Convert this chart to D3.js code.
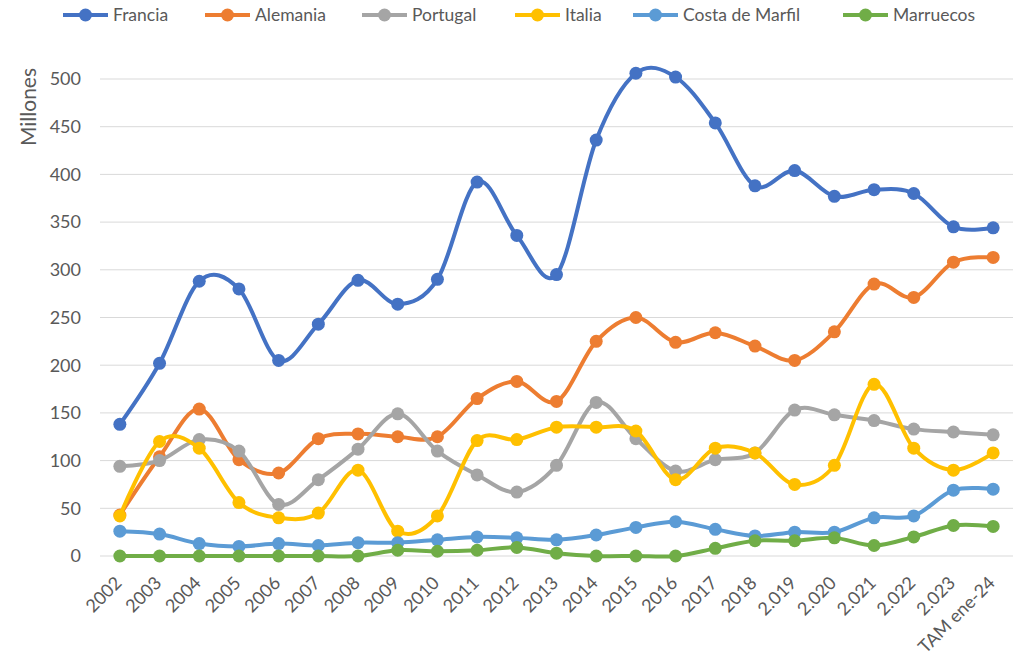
<!DOCTYPE html>
<html>
<head>
<meta charset="utf-8">
<script src="https://cdn.jsdelivr.net/npm/d3@7"></script>
<style>
  body { margin: 0; background: #fff; }
  text { font-family: Lato, "Liberation Sans", sans-serif; fill: #595959; }
</style>
</head>
<body>
<div id="chart"></div>
<script>
const categories = ['2002', '2003', '2004', '2005', '2006', '2007', '2008', '2009', '2010', '2011', '2012', '2013',
  '2014', '2015', '2016', '2017', '2018', '2.019', '2.020', '2.021', '2.022', '2.023', 'TAM ene-24'];

const francia = [138, 202, 288, 280, 205, 243, 289, 264, 290, 392, 336, 295, 436, 506, 502, 454, 388, 404, 377, 384, 380, 345, 344];
const alemania = [43, 104, 154, 101, 87, 123, 128, 125, 125, 165, 183, 162, 225, 250, 224, 234, 220, 205, 235, 285, 271, 308, 313];
const portugal = [94, 100, 122, 110, 54, 80, 112, 149, 110, 85, 67, 95, 161, 123, 89, 101, 108, 153, 148, 142, 133, 130, 127];
const italia = [42, 120, 113, 56, 40, 45, 90, 26, 42, 121, 122, 135, 135, 131, 80, 113, 108, 75, 95, 180, 113, 90, 108];
const costaMarfil = [26, 23, 13, 10, 13, 11, 14, 14, 17, 20, 19, 17, 22, 30, 36, 28, 21, 25, 25, 40, 42, 69, 70];
const marruecos = [0, 0, 0, 0, 0, 0, 0, 6, 5, 6, 9, 3, 0, 0, 0, 8, 16, 16, 19, 11, 20, 32, 31];

const yTicks = [0, 50, 100, 150, 200, 250, 300, 350, 400, 450, 500];

const series = [
  {name: 'Francia', values: francia, color: '#4472C4'},
  {name: 'Alemania', values: alemania, color: '#ED7D31'},
  {name: 'Portugal', values: portugal, color: '#A5A5A5'},
  {name: 'Italia', values: italia, color: '#FFC000'},
  {name: 'Costa de Marfil', values: costaMarfil, color: '#5B9BD5'},
  {name: 'Marruecos', values: marruecos, color: '#70AD47'}
];

const width = 1020;
const height = 658;
const margin = {left: 100, right: 7, top: 79, bottom: 102};

const svg = d3.select('#chart').append('svg')
  .attr('width', width)
  .attr('height', height);

const x = d3.scalePoint()
  .domain(categories)
  .range([margin.left, width - margin.right])
  .padding(0.5);

const y = d3.scaleLinear()
  .domain([0, 500])
  .range([height - margin.bottom, margin.top]);

// gridlines
svg.append('g')
  .selectAll('line')
  .data(yTicks)
  .join('line')
  .attr('x1', margin.left)
  .attr('x2', width - margin.right)
  .attr('y1', d => y(d))
  .attr('y2', d => y(d))
  .attr('stroke', '#D9D9D9')
  .attr('stroke-width', 1);

// y tick labels
svg.append('g')
  .selectAll('text')
  .data(yTicks)
  .join('text')
  .attr('x', 81)
  .attr('y', d => y(d))
  .attr('dy', '0.35em')
  .attr('text-anchor', 'end')
  .style('font-size', '18px')
  .text(d => d);

// y axis title
svg.append('text')
  .attr('transform', `translate(36, 107) rotate(-90)`)
  .attr('text-anchor', 'middle')
  .style('font-size', '21px')
  .text('Millones');

// x tick labels
svg.append('g')
  .selectAll('text')
  .data(categories)
  .join('text')
  .attr('transform', d => `translate(${x(d) + 3}, ${y(0) + 28}) rotate(-45)`)
  .attr('text-anchor', 'end')
  .style('font-size', '18px')
  .text(d => d);

const line = d3.line()
  .x((d, i) => x(categories[i]))
  .y(d => y(d))
  .curve(d3.curveCatmullRom.alpha(0));

const g = svg.append('g');
series.forEach(s => {
  const sg = g.append('g');
  sg.append('path')
    .datum(s.values)
    .attr('d', line)
    .attr('fill', 'none')
    .attr('stroke', s.color)
    .attr('stroke-width', 4)
    .attr('stroke-linejoin', 'round');
  sg.selectAll('circle')
    .data(s.values)
    .join('circle')
    .attr('cx', (d, i) => x(categories[i]))
    .attr('cy', d => y(d))
    .attr('r', 6.5)
    .attr('fill', s.color);
});

// legend
const legendPos = [63, 205, 362, 515, 633, 843];
const legend = svg.append('g');
series.forEach((s, i) => {
  const lg = legend.append('g').attr('transform', `translate(${legendPos[i]}, 15)`);
  lg.append('line')
    .attr('x1', 0).attr('x2', 45)
    .attr('stroke', s.color)
    .attr('stroke-width', 4);
  lg.append('circle')
    .attr('cx', 22.5)
    .attr('r', 6.5)
    .attr('fill', s.color);
  lg.append('text')
    .attr('x', 50)
    .attr('dy', '0.35em')
    .style('font-size', '17.5px')
    .text(s.name);
});
</script>
</body>
</html>
